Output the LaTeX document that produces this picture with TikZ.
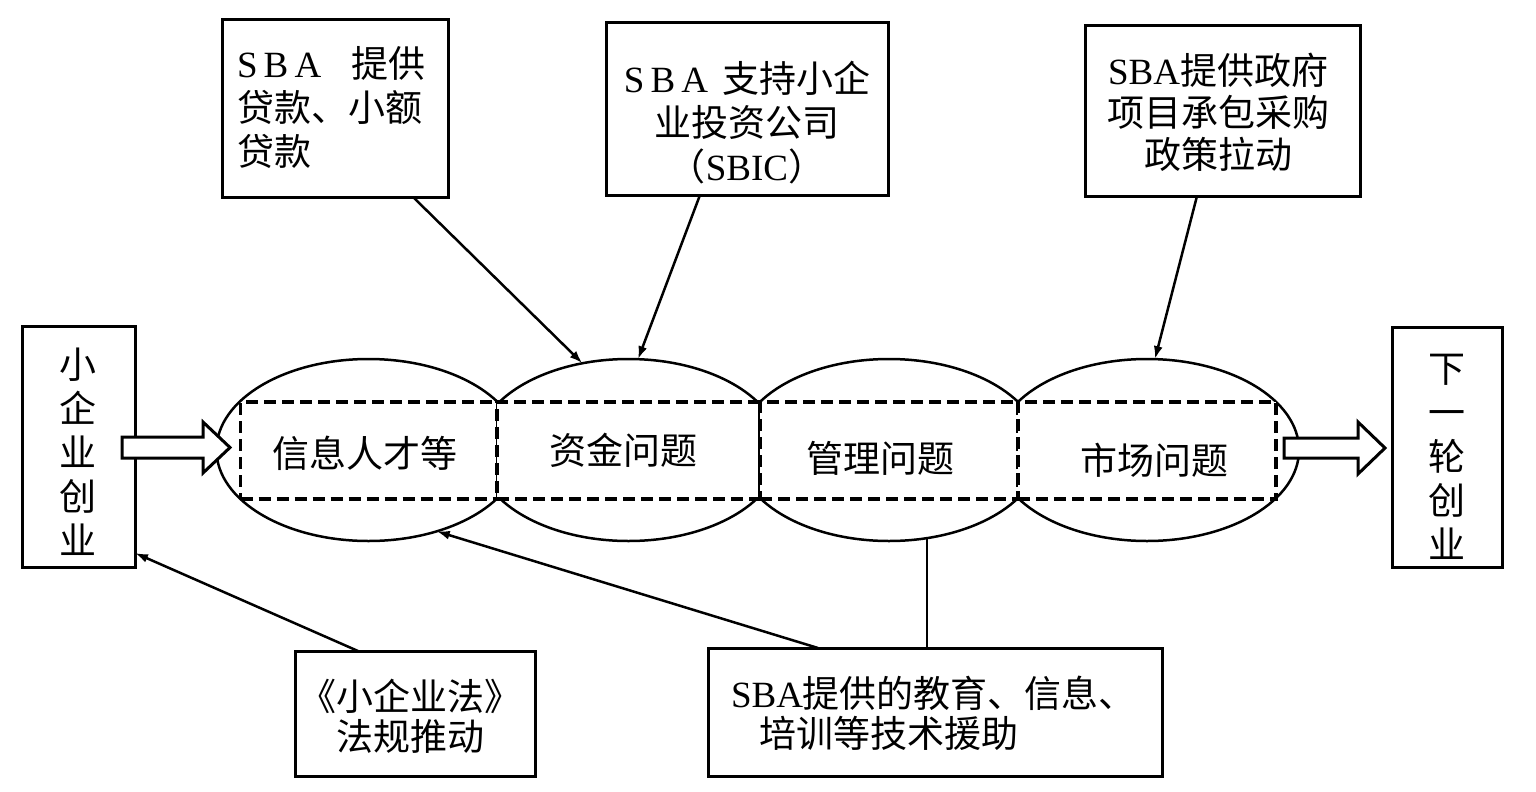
\documentclass[tikz,border=0pt]{standalone}
\usepackage{fontspec}
\setmainfont{Noto Sans CJK SC}
\newfontfamily\latf{Liberation Serif}
\usetikzlibrary{shapes.geometric,arrows.meta}
\begin{document}
\begin{tikzpicture}[x=1pt,y=-1pt,
  every node/.style={inner sep=0pt,outer sep=0pt},
  txt/.style={font=\fontsize{37}{44}\selectfont},
  txtb/.style={font=\fontsize{37}{40}\selectfont},
  boxnode/.style={draw,line width=3pt,fill=white,rectangle},
  ell/.style={draw,ellipse,line width=2.5pt,minimum width=304pt,minimum height=182pt},
  dbox/.style={draw,dash pattern=on 12pt off 6pt,line width=3.5pt,fill=white,minimum height=97pt},
  arr/.style={line width=2.5pt,-{Latex[length=13pt,width=9pt]}},
  plain/.style={line width=2.5pt},
  blockarr/.style={draw,line width=3pt,fill=white,line join=miter}
]
\useasboundingbox (0,0) rectangle (1536,792);
\fill[white] (0,0) rectangle (1536,792);

% ellipses
\node[ell] (e1) at (368.5,450) {};
\node[ell] (e2) at (628.5,450) {};
\node[ell] (e3) at (889,450) {};
\node[ell] (e4) at (1147,450) {};

% dashed rectangles
\node[dbox,minimum width=257pt] (r1) at (369,450.5) {};
\node[dbox,minimum width=263pt] (r2) at (628.5,450.5) {};
\node[dbox,minimum width=258pt] (r3) at (889,450.5) {};
\node[dbox,minimum width=258pt] (r4) at (1147,450.5) {};

\node[txt] (t1) at (365,453) {信息人才等};
\node[txt] (t2) at (623,450) {资金问题};
\node[txt] (t3) at (880,458) {管理问题};
\node[txt] (t4) at (1154,460) {市场问题};

% boxes
\node[boxnode,minimum width=226pt,minimum height=177pt] (b1) at (335,108.5) {};
\node[boxnode,minimum width=282pt,minimum height=172pt] (b2) at (747,109) {};
\node[boxnode,minimum width=275pt,minimum height=170pt] (b3) at (1222.5,111) {};
\node[boxnode,minimum width=113pt,minimum height=241pt] (lb) at (78.5,446.5) {};
\node[boxnode,minimum width=110pt,minimum height=240pt] (rb) at (1447,447) {};
\node[boxnode,minimum width=240pt,minimum height=125pt] (bl) at (415,713.5) {};
\node[boxnode,minimum width=454pt,minimum height=128pt] (br) at (935,712) {};

% box texts
\node[txt,align=left,anchor=west] (tb1) at (237,108) {{\latf S\,B\,A}\hspace{30pt}提供\\贷款、小额\\贷款};
\node[txt,align=center] (tb2) at (747,123) {{\latf S\,B\,A}\hspace{14pt}支持小企\\业投资公司\\（{\latf SBIC}）};
\node[txt,align=center,font=\fontsize{37}{42}\selectfont] (tb3) at (1218,112) {{\latf SBA}提供政府\\项目承包采购\\政策拉动};
\node[txt,align=center] (tlb) at (78,452) {小\\企\\业\\创\\业};
\node[txt,align=center] (trb) at (1447,457) {下\\一\\轮\\创\\业};
\node[txtb,align=center] (tbl) at (410,716) {《小企业法》\\法规推动};
\node[txtb,align=left,anchor=west] (tbr) at (731,713) {{\latf SBA}提供的教育、信息、\\\hspace*{28pt}培训等技术援助};

% connectors
\draw[arr] ([xshift=78pt]b1.south) -- (e2.118);
\draw[arr] ([xshift=-47pt]b2.south) -- (e2.84);
\draw[arr] ([xshift=-25.5pt]b3.south) -- (e4.85);
\draw[arr] ([xshift=-57pt]bl.north) -- ([yshift=14pt]lb.south east);
\draw[arr] ([xshift=-117pt]br.north) -- (e1.-50);
\coordinate (m3) at (927,538);
\draw[plain] ([xshift=-8pt]br.north) -- (m3);

% hollow block arrows
\path[blockarr] (122,437) -- (203,437) -- (203,422) -- (230,447.5) -- (203,473) -- (203,458) -- (122,458) -- cycle;
\path[blockarr] (1284,438) -- (1358,438) -- (1358,422) -- (1385,448) -- (1358,474) -- (1358,458) -- (1284,458) -- cycle;
\end{tikzpicture}
\end{document}
